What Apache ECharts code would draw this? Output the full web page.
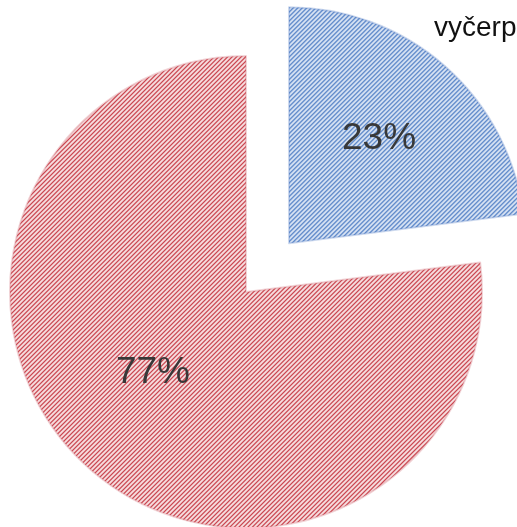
<!DOCTYPE html>
<html>
<head>
<meta charset="utf-8">
<script src="https://cdn.jsdelivr.net/npm/echarts@6/dist/echarts.min.js"></script>
<style>
  html, body { margin: 0; padding: 0; background: #fff; }
  #chart { width: 517px; height: 527px; }
</style>
</head>
<body>
<div id="chart"></div>
<script>
// chart data
var categories = ['vyčerpáno', 'nevyčerpáno']
var values = [23, 77]
var titleText = 'vyčerpáno'

// diagonal hatch tile, "/" direction, period 4.5px
function hatch(dark, light) {
  var n = 9
  var period = 4.5
  var c = document.createElement('canvas')
  c.width = n
  c.height = n
  var ctx = c.getContext('2d')
  var img = ctx.createImageData(n, n)
  for (var x = 0; x < n; x++) {
    for (var y = 0; y < n; y++) {
      var t = ((x + y) % period) / period
      var w = Math.pow(0.5 + 0.5 * Math.cos(2 * Math.PI * t), 1.8)
      var i = (y * n + x) * 4
      for (var ch = 0; ch < 3; ch++) {
        img.data[i + ch] = Math.round(light[ch] + (dark[ch] - light[ch]) * w)
      }
      img.data[i + 3] = 255
    }
  }
  ctx.putImageData(img, 0, 0)
  return { image: c, repeat: 'repeat' }
}

var blueFill = hatch([78, 125, 196], [220, 230, 245])
var redFill = hatch([202, 72, 82], [246, 220, 222])

// label nudges from the default inside position
var labelShift = [[10, -14], [-13, -10]]

var chart = echarts.init(document.getElementById('chart'))
chart.setOption({
  animation: false,
  backgroundColor: '#fff',
  title: {
    text: titleText,
    left: 429,
    top: 9,
    textStyle: {
      fontFamily: 'Liberation Sans',
      fontSize: 28,
      fontWeight: 'normal',
      color: '#111'
    }
  },
  series: [{
    type: 'pie',
    center: [246, 292],
    radius: 236,
    startAngle: 90,
    clockwise: true,
    selectedMode: 'single',
    selectedOffset: 65,
    avoidLabelOverlap: false,
    emphasis: { disabled: true },
    label: {
      show: true,
      position: 'inside',
      formatter: function (p) { return Math.round(p.percent) + '%' },
      fontFamily: 'Liberation Sans',
      fontSize: 37,
      color: '#383838'
    },
    labelLine: { show: false },
    labelLayout: function (p) {
      var s = labelShift[p.dataIndex]
      return { dx: s[0], dy: s[1] }
    },
    data: [
      {
        name: categories[0],
        value: values[0],
        selected: true,
        itemStyle: { color: blueFill, borderColor: 'rgba(90,130,200,0.3)', borderWidth: 2 }
      },
      {
        name: categories[1],
        value: values[1],
        itemStyle: { color: redFill, borderColor: 'rgba(210,110,118,0.3)', borderWidth: 2 }
      }
    ]
  }]
})
</script>
</body>
</html>
